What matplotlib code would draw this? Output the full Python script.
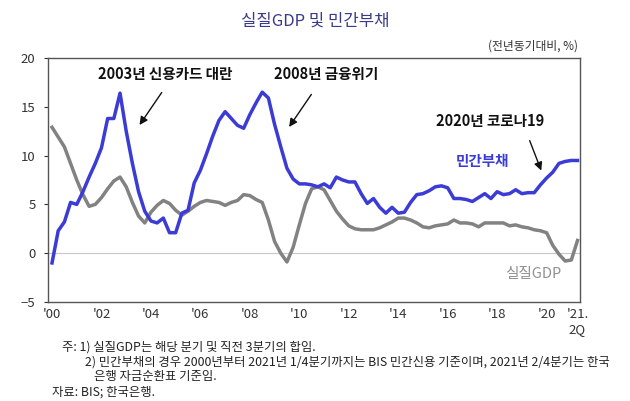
import matplotlib
matplotlib.use("Agg")
import matplotlib.pyplot as plt
import numpy as np

plt.rcParams['font.family'] = ['Noto Sans CJK KR', 'DejaVu Sans']

# quarterly, 2000Q1 .. 2021Q2 (y/y, %)
debt = [-1.0, 2.3, 3.2, 5.2, 5.0, 6.3, 7.8, 9.2, 10.8, 13.8,
        13.8, 16.4, 12.5, 9.2, 6.3, 4.3, 3.3, 3.1, 3.6, 2.1,
        2.1, 4.1, 4.4, 7.2, 8.5, 10.2, 12.0, 13.6, 14.5, 13.8,
        13.1, 12.8, 14.2, 15.4, 16.5, 15.9, 13.2, 10.9, 8.7, 7.6,
        7.1, 7.1, 7.0, 6.8, 7.1, 6.7, 7.8, 7.5, 7.3, 7.3,
        6.1, 5.1, 5.6, 4.7, 4.1, 4.7, 4.1, 4.2, 5.2, 6.0,
        6.1, 6.4, 6.8, 6.9, 6.7, 5.6, 5.6, 5.5, 5.3, 5.7,
        6.1, 5.6, 6.3, 6.0, 6.1, 6.5, 6.1, 6.2, 6.2, 7.0,
        7.7, 8.3, 9.2, 9.4, 9.5, 9.5]
gdp = [12.9, 11.9, 10.9, 9.2, 7.5, 6.0, 4.8, 5.0, 5.7, 6.6,
       7.4, 7.8, 6.8, 5.2, 3.8, 3.1, 4.2, 4.9, 5.4, 5.1,
       4.4, 3.9, 4.3, 4.8, 5.2, 5.4, 5.3, 5.2, 4.9, 5.2,
       5.4, 6.0, 5.9, 5.5, 5.2, 3.4, 1.2, 0.0, -0.9, 0.6,
       2.9, 5.1, 6.6, 6.8, 6.5, 5.4, 4.3, 3.5, 2.8, 2.5,
       2.4, 2.4, 2.4, 2.6, 2.9, 3.2, 3.6, 3.6, 3.4, 3.1,
       2.7, 2.6, 2.8, 2.9, 3.0, 3.4, 3.1, 3.1, 3.0, 2.7,
       3.1, 3.1, 3.1, 3.1, 2.8, 2.9, 2.7, 2.6, 2.4, 2.3,
       2.1, 0.8, -0.1, -0.8, -0.7, 1.3]
tick_pos = [0, 8, 16, 24, 32, 40, 48, 56, 64, 72, 80, 85]
tick_labels = ["'00", "'02", "'04", "'06", "'08", "'10", "'12", "'14",
               "'16", "'18", "'20", "'21.\n2Q"]

x = np.arange(len(debt))

fig = plt.figure(figsize=(6.3, 4.01), dpi=100)
ax = fig.add_axes([0.0762, 0.2469, 0.8444, 0.6085])

ax.axhline(0, color='#c8c8c8', lw=0.8, zorder=1)
ax.plot(x, gdp, color='#828282', lw=2.5, zorder=2)
ax.plot(x, debt, color='#3b3bd6', lw=2.5, zorder=3)

ax.set_xlim(-0.65, 85.4)
ax.set_ylim(-5, 20)
ax.set_yticks([-5, 0, 5, 10, 15, 20])
ax.set_xticks(tick_pos)
ax.set_xticklabels(tick_labels)
ax.tick_params(axis='x', length=0, labelsize=9.5, colors='#333333', pad=4)
ax.tick_params(axis='y', length=3, labelsize=9.5, colors='#333333', pad=6)
for s in ax.spines.values():
    s.set_color('#555555')
    s.set_linewidth(1.0)

# annotations
arrow = dict(arrowstyle='-|>', color='#111111', lw=1.0, mutation_scale=12)
ax.text(18.3, 18.4, '2003년 신용카드 대란', fontsize=10.5, fontweight='bold',
        ha='center', va='center', color='#111111')
ax.annotate('', xy=(13.9, 12.9), xytext=(18.0, 16.7), arrowprops=arrow)
ax.text(44.3, 18.4, '2008년 금융위기', fontsize=10.5, fontweight='bold',
        ha='center', va='center', color='#111111')
ax.annotate('', xy=(38.1, 12.7), xytext=(42.2, 16.5), arrowprops=arrow)
ax.text(70.8, 13.5, '2020년 코로나19', fontsize=10.5, fontweight='bold',
        ha='center', va='center', color='#111111')
ax.annotate('', xy=(79.3, 8.2), xytext=(77.1, 11.8), arrowprops=arrow)
ax.text(69.6, 9.4, '민간부채', fontsize=10.5, fontweight='bold', ha='center', va='center',
        color='#3b3bd6')
ax.text(77.9, -2.1, '실질GDP', fontsize=10.5, ha='center', va='center', color='#909090')

fig.text(0.5, 0.948, '실질GDP 및 민간부채', fontsize=12, ha='center', va='center',
         color='#3a3a8c')
fig.text(0.918, 0.885, '(전년동기대비, %)', fontsize=8.5, ha='right', va='center',
         color='#333333')

notes = [
    (0.098, 0.135, '주: 1) 실질GDP는 해당 분기 및 직전 3분기의 합임.'),
    (0.135, 0.098, '2) 민간부채의 경우 2000년부터 2021년 1/4분기까지는 BIS 민간신용 기준이며, 2021년 2/4분기는 한국'),
    (0.150, 0.061, '은행 자금순환표 기준임.'),
    (0.082, 0.023, '자료: BIS; 한국은행.'),
]
for nx, ny, t in notes:
    fig.text(nx, ny, t, fontsize=8.9, ha='left', va='center', color='#222222')

fig.savefig('out.png', dpi=100)
